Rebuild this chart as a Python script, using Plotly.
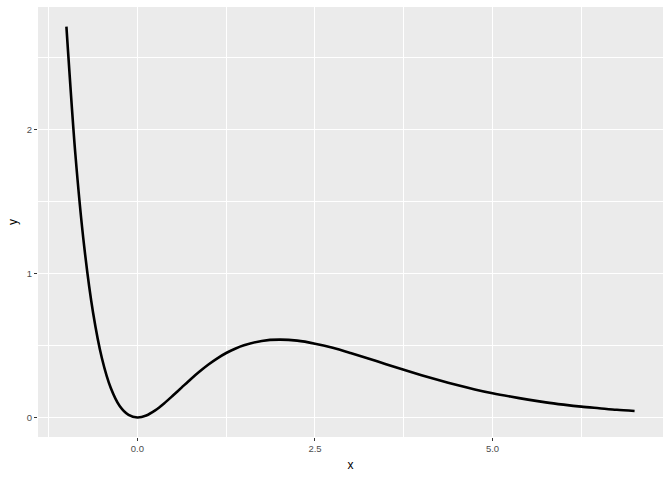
import plotly.graph_objects as go

# values
x_vals = [-1.0, -0.875, -0.75, -0.625, -0.5, -0.375, -0.25, -0.125, 0.0, 0.125, 0.25, 0.375, 0.5,
          0.625, 0.75, 0.875, 1.0, 1.125, 1.25, 1.375, 1.5,
          1.75, 2.0, 2.25, 2.5, 2.75, 3.0, 3.25, 3.5, 3.75, 4.0, 4.25, 4.5, 4.75, 5.0,
          5.25, 5.5, 5.75, 6.0, 6.25, 6.5, 6.75, 7.0]
y_vals = [2.718, 1.837, 1.191, 0.730, 0.412, 0.205, 0.080, 0.018, 0.0, 0.014, 0.049, 0.097, 0.152,
          0.209, 0.266, 0.319, 0.368, 0.411, 0.448, 0.478, 0.502,
          0.532, 0.541, 0.534, 0.513, 0.484, 0.448, 0.410, 0.370, 0.331, 0.293, 0.258, 0.225, 0.195, 0.168,
          0.145, 0.124, 0.105, 0.089, 0.075, 0.064, 0.053, 0.045]

x_ticks = [0, 2.5, 5]
x_ticklabels = ["0.0", "2.5", "5.0"]
y_ticks = [0, 1, 2]
y_ticklabels = ["0", "1", "2"]

FONT = "Liberation Sans, Arial, sans-serif"

fig = go.Figure()
fig.add_trace(go.Scatter(x=x_vals, y=y_vals, mode="lines",
                         line=dict(color="black", width=2.6, shape="spline", smoothing=0.8),
                         showlegend=False))

axis_common = dict(
    showgrid=True, gridcolor="white", gridwidth=1.1, zeroline=False,
    ticks="outside", ticklen=3, tickcolor="#333333", tickwidth=1,
    tickfont=dict(family=FONT, size=9.5, color="#4D4D4D"),
    showline=False, automargin=False,
)

fig.update_layout(
    width=672, height=480,
    paper_bgcolor="white", plot_bgcolor="#EBEBEB",
    margin=dict(l=38, r=9, t=7, b=43),
    xaxis=dict(range=[-1.4, 7.4], tickvals=x_ticks, ticktext=x_ticklabels,
               minor=dict(tickvals=[-1.25, 1.25, 3.75, 6.25], showgrid=True, gridcolor="white", gridwidth=0.5, ticks=""),
               title=dict(text="x", font=dict(family=FONT, size=12, color="black"), standoff=7),
               **axis_common),
    yaxis=dict(range=[-0.136, 2.854], tickvals=y_ticks, ticktext=y_ticklabels,
               minor=dict(tickvals=[0.5, 1.5, 2.5], showgrid=True, gridcolor="white", gridwidth=0.5, ticks=""),
               title=dict(text="y", font=dict(family=FONT, size=12, color="black"), standoff=6),
               **axis_common),
)

fig.write_html("out.html", config={"displayModeBar": False},
               post_script="document.body.style.margin='0';")
